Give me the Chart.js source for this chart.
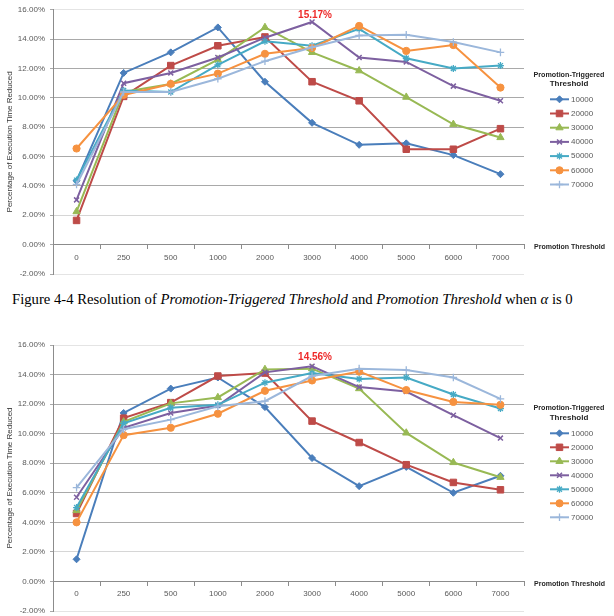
<!DOCTYPE html>
<html><head><meta charset="utf-8">
<script src="https://cdn.jsdelivr.net/npm/chart.js@4.4.0/dist/chart.umd.min.js"></script>
<style>
html,body{margin:0;padding:0;background:#fff;width:614px;height:616px;overflow:hidden;position:relative;}
#c1wrap{position:absolute;left:0;top:0;width:614px;height:285px;}
#c2wrap{position:absolute;left:0;top:335px;width:614px;height:292px;}
#cap{position:absolute;left:12px;top:291px;text-align:left;font-family:"Liberation Serif","Times New Roman",serif;font-size:14.7px;color:#000;white-space:nowrap;}
</style></head><body>
<div id="c1wrap"><canvas id="c1"></canvas></div>
<div id="cap">Figure 4-4 Resolution of <i>Promotion-Triggered Threshold</i> and <i>Promotion Threshold</i> when <i>α</i> is 0</div>
<div id="c2wrap"><canvas id="c2"></canvas></div>
<script>
// ---- data ----
const categories = ['0','250','500','1000','2000','3000','4000','5000','6000','7000'];
const seriesNames = ['10000','20000','30000','40000','50000','60000','70000'];
const yTicks = [-2,0,2,4,6,8,10,12,14,16];

// upper chart (alpha = 0)
const a0_10000 = [4.35, 11.7, 13.1, 14.8, 11.1, 8.3, 6.8, 6.9, 6.1, 4.8];
const a0_20000 = [1.65, 10.1, 12.2, 13.55, 14.15, 11.1, 9.8, 6.5, 6.5, 7.9];
const a0_30000 = [2.25, 10.4, 10.95, 12.6, 14.8, 13.1, 11.85, 10.05, 8.2, 7.3];
const a0_40000 = [3.05, 11.0, 11.7, 12.75, 14.1, 15.17, 12.75, 12.45, 10.8, 9.8];
const a0_50000 = [4.4, 10.5, 10.4, 12.25, 13.85, 13.55, 14.7, 12.7, 12.0, 12.2];
const a0_60000 = [6.55, 10.2, 10.95, 11.65, 13.0, 13.4, 14.9, 13.2, 13.6, 10.7];
const a0_70000 = [4.1, 10.4, 10.4, 11.3, 12.5, 13.45, 14.25, 14.3, 13.8, 13.1];

// lower chart
const b_10000 = [1.5, 11.4, 13.05, 13.8, 11.8, 8.35, 6.45, 7.75, 6.0, 7.15];
const b_20000 = [4.6, 11.05, 12.1, 13.9, 14.1, 10.85, 9.4, 7.9, 6.7, 6.2];
const b_30000 = [4.8, 10.8, 12.05, 12.45, 14.35, 14.4, 13.05, 10.05, 8.05, 7.05];
const b_40000 = [5.7, 10.4, 11.4, 11.9, 14.15, 14.56, 13.15, 12.85, 11.25, 9.7];
const b_50000 = [5.0, 10.7, 11.75, 11.95, 13.45, 14.1, 13.7, 13.8, 12.65, 11.7];
const b_60000 = [4.0, 9.9, 10.4, 11.35, 12.9, 13.6, 14.2, 12.95, 12.15, 11.95];
const b_70000 = [6.35, 10.3, 10.95, 11.85, 12.2, 13.9, 14.4, 14.3, 13.8, 12.35];

// ---- styles ----
const colors = ['#4A7EBB','#BE4B48','#98B954','#7D60A0','#46AAC5','#F69240','#9BB7DB'];
const pStyles = ['rectRot','rect','triangle','crossRot','star','circle','cross'];
const pRadius = [3.5,4.6,4.2,3.5,3.5,3.6,3.8];
const pBorder = [1,1,1,1.5,1.3,1,1.3];

Chart.defaults.font.family = '"Liberation Sans", Arial, sans-serif';

function makeDatasets(arrs){
  return arrs.map((d,i)=>({
    label: seriesNames[i], data: d, order: arrs.length - 1 - i,
    borderColor: colors[i], backgroundColor: colors[i],
    pointBackgroundColor: colors[i], pointBorderColor: colors[i],
    pointStyle: pStyles[i], pointRadius: pRadius[i], pointBorderWidth: pBorder[i],
    borderWidth: 2, fill: false, tension: 0
  }));
}

const excelLegend = {
  id: 'excelLegend',
  afterDraw(chart, args, o){
    const ctx = chart.ctx; const ca = chart.chartArea;
    ctx.save();
    ctx.fillStyle = '#262626';
    ctx.font = 'bold 8px "Liberation Sans"';
    ctx.textAlign = 'center'; ctx.textBaseline = 'middle';
    ['Promotion-Triggered','Threshold'].forEach((t,i)=>ctx.fillText(t, 569, ca.top + o.titleDy + i*9.5, 71));
    chart.data.datasets.forEach((ds,i)=>{
      const y = ca.top + o.itemDy + i*o.gap;
      ctx.strokeStyle = ds.borderColor; ctx.fillStyle = ds.borderColor; ctx.lineWidth = 2;
      ctx.beginPath(); ctx.moveTo(550,y); ctx.lineTo(569,y); ctx.stroke();
      ctx.lineWidth = ds.pointBorderWidth;
      Chart.helpers.drawPoint(ctx, {pointStyle: ds.pointStyle, radius: ds.pointRadius, rotation: 0, borderWidth: ds.pointBorderWidth}, 559.5, y);
      ctx.fillStyle = '#595959'; ctx.font = '8px "Liberation Sans"'; ctx.textAlign = 'left';
      ctx.fillText(ds.label, 571, y);
    });
    const y0 = chart.scales.y.getPixelForValue(0);
    ctx.fillStyle = '#262626'; ctx.font = 'bold 8px "Liberation Sans"'; ctx.textAlign = 'left';
    ctx.fillText('Promotion Threshold', 534, y0 + 2, 71);
    const ds = chart.data.datasets[3];
    const v = ds.data[5];
    const px = chart.scales.x.getPixelForValue(5), py = chart.scales.y.getPixelForValue(v);
    ctx.fillStyle = '#EE2A2A'; ctx.font = 'bold 10px "Liberation Sans"'; ctx.textAlign = 'center';
    ctx.fillText(v.toFixed(2) + '%', px + 3, py - o.annDy);
    ctx.restore();
  }
};

function gridColor(c){
  const v = c.tick && c.tick.value;
  if (v === 16 || v === -2) return '#e4e4e4';
  if (v === 2) return '#d6d6d6';
  return '#a9a9a9';
}

function makeChart(id, arrs, pad, leg){
  return new Chart(document.getElementById(id), {
    type: 'line',
    data: { labels: categories, datasets: makeDatasets(arrs) },
    plugins: [excelLegend],
    options: {
      responsive: true, maintainAspectRatio: false, animation: false,
      layout: { padding: pad },
      plugins: { legend: { display: false }, tooltip: { enabled: false }, excelLegend: leg },
      scales: {
        x: {
          type: 'category', position: { y: 0 }, offset: true,
          grid: { offset: true, drawOnChartArea: false, drawTicks: true, tickLength: 4, color: '#8c8c8c' },
          border: { color: '#8c8c8c' },
          ticks: { color: '#595959', font: { size: 8 }, padding: 4, maxRotation: 0, autoSkip: false }
        },
        y: {
          min: -2, max: 16,
          afterBuildTicks(s){ s.ticks = yTicks.map(v=>({value:v})); },
          afterFit(s){ s.width = 53; },
          ticks: { color: '#595959', font: { size: 8 }, padding: 5, callback: v => v.toFixed(2) + '%' },
          grid: { color: gridColor, tickLength: 3, tickColor: '#a9a9a9' },
          border: { color: '#8c8c8c' },
          title: { display: true, text: 'Percentage of Execution Time Reduced', color: '#333', font: { size: 8 }, padding: { top: 5, bottom: 0 } }
        }
      }
    }
  });
}

makeChart('c1', [a0_10000,a0_20000,a0_30000,a0_40000,a0_50000,a0_60000,a0_70000],
  { top: 6, bottom: 11, left: 0, right: 90 }, { titleDy: 64.7, itemDy: 89.5, gap: 14.2, annDy: 7 });
makeChart('c2', [b_10000,b_20000,b_30000,b_40000,b_50000,b_60000,b_70000],
  { top: 10, bottom: 16, left: 0, right: 90 }, { titleDy: 63, itemDy: 88.3, gap: 14, annDy: 9 });
</script>
</body></html>
